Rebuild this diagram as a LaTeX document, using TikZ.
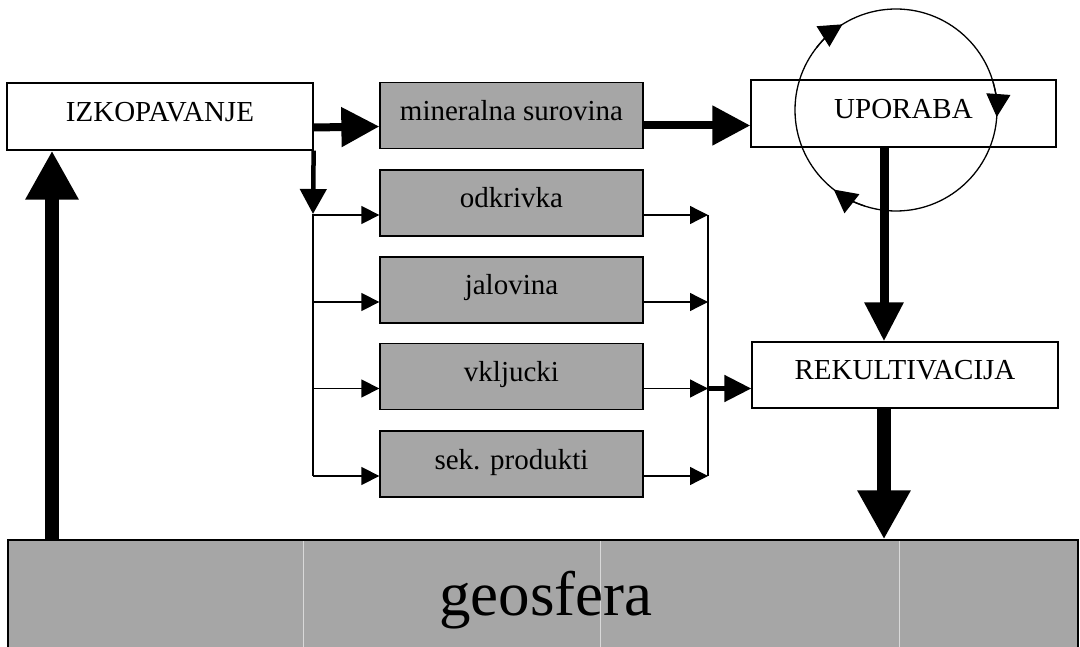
\documentclass[tikz,border=0pt]{standalone}
\usepackage{fontspec}
\setmainfont{Liberation Serif}
\usepackage{tikz}
\usetikzlibrary{arrows.meta}
\tikzstyle{whitebox} = [draw, line width=1.3pt, inner sep=0pt, minimum width=306pt, minimum height=67pt, text height=10pt, text depth=0pt, font=\fontsize{29}{32}\selectfont]
\tikzstyle{graybox} = [whitebox, fill=black!35, minimum width=263pt, minimum height=66pt]
\tikzstyle{flow} = [line width=8pt, -{Triangle[length=38pt,width=38pt]}]
\tikzstyle{bigflow} = [line width=14pt, -{Triangle[length=49pt,width=50pt]}]
\tikzstyle{medflow} = [line width=4.5pt, -{Triangle[length=25pt,width=26pt]}]
\tikzstyle{thinflow} = [line width=1.3pt, -{Triangle[length=18pt,width=18pt]}]
\tikzstyle{loopflow} = [line width=1.3pt, -{Triangle[length=23pt,width=24pt]}]

\begin{document}
\begin{tikzpicture}[x=1pt, y=-1pt]
	\useasboundingbox (0,0) rectangle (1080,647);
	\node[whitebox] (izk) at (160,116.5) {IZKOPAVANJE};
	\node[graybox] (min) at (511.5,115.5) {mineralna surovina};
	\node[graybox] (odk) at (511.5,203) {odkrivka};
	\node[graybox] (jal) at (511.5,290) {jalovina};
	\node[graybox] (vkl) at (511.5,376.5) {vkljucki};
	\node[graybox] (sek) at (511.5,464) {sek. produkti};
	\node[whitebox, minimum width=305pt] (upo) at (903.5,113.5) {UPORABA};
	\node[whitebox, minimum height=66pt] (rek) at (905,375) {REKULTIVACIJA};
	\node[draw, line width=1.3pt, fill=black!35, minimum width=1070pt, minimum height=120pt, inner sep=0pt] (geo) at (543,600) {};
	\foreach \x in {303,600,899}
		\draw[white!85!black, line width=1pt] (\x,541) -- (\x,647);
	\node[font=\fontsize{63}{66}\selectfont] (geotext) at (546,600) {geosfera};

	\coordinate (lift) at (52,0);
	\coordinate (split) at (313,214);
	\coordinate (merge) at (708,0);
	\coordinate (drop) at (884,0);
	\coordinate (hub) at (896,110);

	\draw[bigflow] (lift |- geo.north) -- (lift |- izk.south);
	\draw[flow] ([yshift=-11pt]izk.east) -- ([yshift=-11pt]min.west);
	\draw[flow] ([yshift=-10pt]min.east) -- ([yshift=-12pt]upo.west);
	\draw[medflow] (izk.south east) -- (split);

	\foreach \b in {odk,jal,vkl,sek} {
		\coordinate (\b-in) at ([yshift=-12pt]\b.west);
		\coordinate (\b-out) at ([yshift=-12pt]\b.east);
		\draw[thinflow] (split |- \b-in) -- (\b-in);
		\draw[thinflow] (\b-out) -- (merge |- \b-out);
	}
	\draw[line width=1.3pt] (split) -- (split |- sek-in);
	\draw[line width=1.3pt] (merge |- odk-out) -- (merge |- sek-out);
	\draw[line width=5pt, -{Triangle[length=27pt,width=26pt]}] (merge |- vkl-out) -- (rek.west |- vkl-out);

	\draw[line width=9pt, -{Triangle[length=39pt,width=37pt]}] (drop |- upo.south) -- (drop |- rek.north);
	\draw[bigflow] (drop |- rek.south) -- (drop |- geo.north);

	\draw[line width=1.3pt] (hub) circle (101pt);
	\draw[loopflow] ([shift={(142:101pt)}]hub) arc[start angle=142, end angle=122, radius=101pt];
	\draw[loopflow] ([shift={(16:101pt)}]hub) arc[start angle=16, end angle=-4, radius=101pt];
	\draw[loopflow] ([shift={(252:101pt)}]hub) arc[start angle=252, end angle=232, radius=101pt];
\end{tikzpicture}
\end{document}
